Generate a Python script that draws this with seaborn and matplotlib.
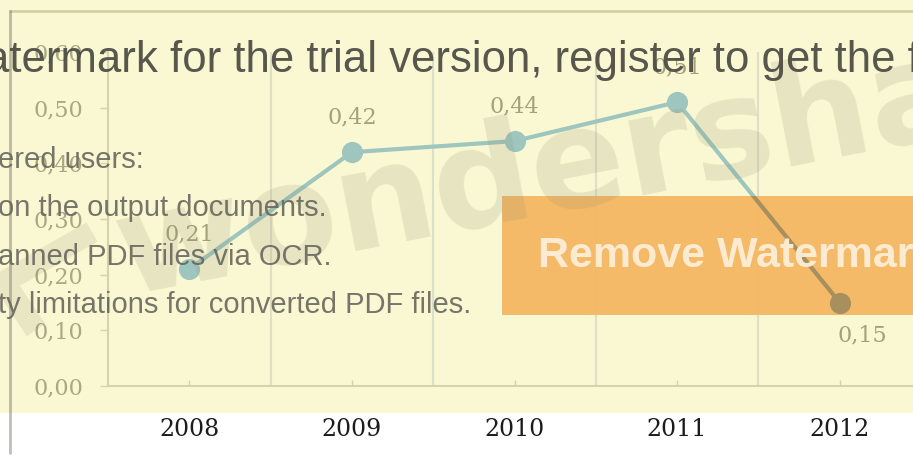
import matplotlib
matplotlib.use("Agg")
import matplotlib.pyplot as plt
import seaborn as sns
import numpy as np
from matplotlib.patches import Rectangle
from matplotlib.lines import Line2D
from matplotlib.ticker import FuncFormatter, FixedLocator

# chart data
years = ["2008", "2009", "2010", "2011", "2012"]
values = [0.21, 0.42, 0.44, 0.51, 0.15]
y_ticks = [0.0, 0.1, 0.2, 0.3, 0.4, 0.5, 0.6]

# trial watermark texts laid over the chart
banner_text = "atermark for the trial version, register to get the full one!"
notice_lines = ["ered users:", "on the output documents.",
                "anned PDF files via OCR.", "ty limitations for converted PDF files."]
logo_text = "wondershare"
button_text = "Remove Watermark Now"

W, H = 913, 455


def fx(px):
    return px / W


def fy(py):
    return 1 - py / H


def comma(v):
    return f"{v:.2f}".replace(".", ",")


sns.set_theme(style="white")
plt.rcParams["font.family"] = ["DejaVu Serif"]

fig = plt.figure(figsize=(W / 100, H / 100), dpi=100)
fig.patch.set_facecolor("white")

# yellow page background and frame
fig.add_artist(Rectangle((0, fy(413)), 1, 1 - fy(413), transform=fig.transFigure,
                         facecolor="#faf8d2", edgecolor="none", zorder=-5))
fig.add_artist(Line2D([fx(10), 1], [fy(11), fy(11)], transform=fig.transFigure,
                      color="#d3cfa4", linewidth=2, zorder=-4))
fig.add_artist(Line2D([fx(10), fx(10)], [fy(11), fy(453)], transform=fig.transFigure,
                      color="#6e6e64", alpha=0.45, linewidth=2, zorder=-4))

ax = fig.add_axes([fx(108), fy(386), (921 - 108) / W, (386 - 52) / H])
ax.set_facecolor("none")

sns.pointplot(x=years, y=values, color="#9ec6bf", markers="o", markersize=13,
              linewidth=3, errorbar=None, ax=ax, zorder=3)

ax.set_xlim(-0.5, len(years) - 0.5)
ax.set_ylim(y_ticks[0], y_ticks[-1])
ax.yaxis.set_major_locator(FixedLocator(y_ticks))
ax.yaxis.set_major_formatter(FuncFormatter(lambda v, p: comma(v)))
ax.xaxis.set_minor_locator(FixedLocator(np.arange(len(years) - 1) + 0.5))
ax.grid(False)
ax.grid(which="minor", axis="x", color="#dde0c8", linewidth=1.5)
ax.set_xlabel("")
ax.set_ylabel("")

for side in ["top", "right"]:
    ax.spines[side].set_visible(False)
for side in ["left", "bottom"]:
    ax.spines[side].set_color("#d6d3ac")
    ax.spines[side].set_linewidth(1.5)

ax.tick_params(axis="y", which="major", direction="out", length=6, width=1,
               color="#d6d3ac", labelsize=16, labelcolor="#aaa881", pad=12, left=True)
ax.tick_params(axis="x", which="major", direction="in", length=4.5, width=1,
               color="#d6d3ac", labelsize=17, labelcolor="#1c1c1c", pad=23, bottom=True)
ax.tick_params(axis="x", which="minor", length=0)

# value labels, below the point when the series drops
for i, v in enumerate(values):
    drop = i > 0 and v < values[i - 1]
    off = (16, -24) if drop else (0, 25)
    ax.annotate(comma(v), (i, v), xytext=off, textcoords="offset points",
                ha="center", va="center", fontsize=16, color="#a3a17a", zorder=4)

# orange "remove watermark" button with the line showing through it
box = Rectangle((fx(502), fy(315)), 1 - fx(502), (315 - 196) / H,
                transform=fig.transFigure, facecolor="#f5b762", edgecolor="none",
                alpha=0.95, zorder=5, clip_on=False)
ax.add_patch(box)
n_before = len(ax.lines)
sns.pointplot(x=years, y=values, color="#a88f5e", markers="o", markersize=13,
              linewidth=3, errorbar=None, ax=ax)
clip = Rectangle((fx(502), fy(315)), 1 - fx(502), (315 - 196) / H, transform=fig.transFigure)
for ln in ax.lines[n_before:]:
    ln.set_zorder(6)
    ln.set_clip_path(clip)
ax.set_xlim(-0.5, len(years) - 0.5)
ax.text(fx(538), fy(267), button_text, transform=fig.transFigure, fontsize=31,
        fontweight="bold", family="Liberation Sans", color="#fdeed8", alpha=0.95,
        va="baseline", ha="left", zorder=7, clip_on=False)

# rotated logo watermark: chevron mark + word
fig.add_artist(Line2D([fx(92), fx(4), fx(36)], [fy(232), fy(282), fy(330)],
                      transform=fig.transFigure, color="#8c8a6e", alpha=0.15,
                      linewidth=16, solid_joinstyle="round", solid_capstyle="butt", zorder=8))
fig.text(fx(125), fy(295), logo_text, rotation=11, rotation_mode="anchor",
         fontsize=100, fontweight="bold", family="DejaVu Sans",
         color="#8c8a6e", alpha=0.17, va="baseline", ha="left", zorder=8)

# trial notice texts
fig.text(fx(-15), fy(72), banner_text, fontsize=31.5, family="Liberation Sans",
         color="#4e4e46", alpha=0.95, va="baseline", ha="left", zorder=9)
for k, line in enumerate(notice_lines):
    fig.text(fx(-2), fy(168 + 48.3 * k), line, fontsize=21, family="Liberation Sans",
             color="#67675e", alpha=0.9, va="baseline", ha="left", zorder=9)

fig.savefig("out.png", dpi=100)
